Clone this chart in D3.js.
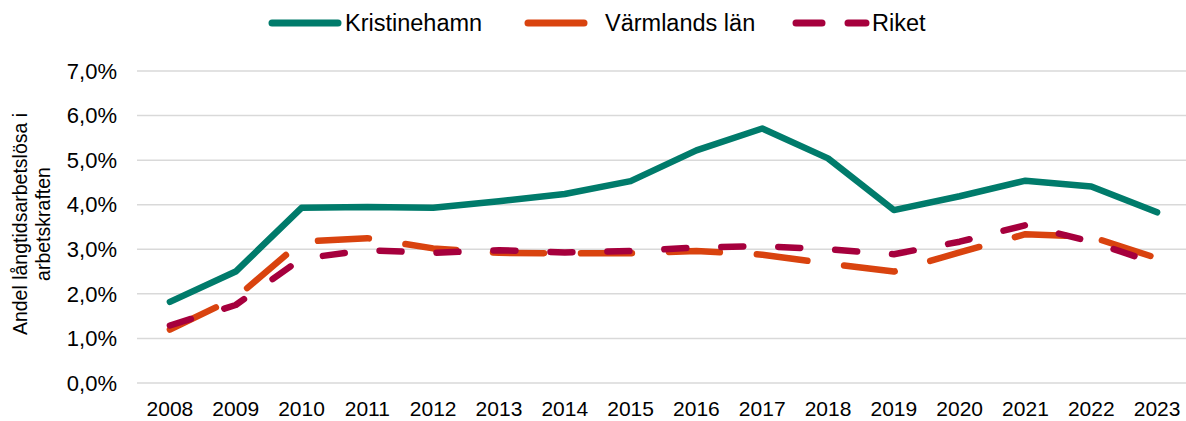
<!DOCTYPE html>
<html>
<head>
<meta charset="utf-8">
<script src="https://cdn.jsdelivr.net/npm/d3@7"></script>
<style>
  body { margin: 0; background: #fff; }
  text { font-family: "Liberation Sans", Arial, sans-serif; fill: #000; }
</style>
</head>
<body>
<svg id="chart" width="1186" height="421"></svg>
<script>
// data
var years = ["2008","2009","2010","2011","2012","2013","2014","2015","2016","2017","2018","2019","2020","2021","2022","2023"];
var kristinehamn = [1.82, 2.50, 3.93, 3.95, 3.93, 4.08, 4.24, 4.53, 5.22, 5.71, 5.04, 3.88, 4.19, 4.54, 4.41, 3.83];
var varmland     = [1.20, 1.91, 3.17, 3.25, 3.02, 2.92, 2.91, 2.91, 2.96, 2.88, 2.68, 2.50, 2.93, 3.34, 3.28, 2.80];
var riket        = [1.29, 1.75, 2.79, 2.98, 2.92, 2.98, 2.93, 2.96, 3.04, 3.07, 3.00, 2.89, 3.17, 3.54, 3.17, 2.68];
var yTicks = [0, 1, 2, 3, 4, 5, 6, 7];

var series = [
  {name: "Kristinehamn", values: kristinehamn, color: "#007B6B", dash: null},
  {name: "Värmlands län", values: varmland, color: "#D9430F", dash: "51,37"},
  {name: "Riket", values: riket, color: "#A6003D", dash: "22,35"}
];

var svg = d3.select("#chart");

var x = d3.scaleBand()
  .domain(years)
  .range([137, 1190]);

var y = d3.scaleLinear()
  .domain([0, 7])
  .range([383, 71]);

// gridlines
svg.append("g")
  .selectAll("line")
  .data(yTicks)
  .enter().append("line")
  .attr("x1", 137)
  .attr("x2", 1186)
  .attr("y1", function(d){ return y(d); })
  .attr("y2", function(d){ return y(d); })
  .attr("stroke", "#d9d9d9")
  .attr("stroke-width", 1.5);

// y labels
svg.append("g")
  .selectAll("text")
  .data(yTicks)
  .enter().append("text")
  .attr("x", 117)
  .attr("y", function(d){ return y(d); })
  .attr("dy", "0.35em")
  .attr("text-anchor", "end")
  .style("font-size", "22px")
  .text(function(d){ return d.toFixed(1).replace(".", ",") + "%"; });

// x labels
svg.append("g")
  .selectAll("text")
  .data(years)
  .enter().append("text")
  .attr("x", function(d){ return x(d) + x.bandwidth() / 2; })
  .attr("y", 416)
  .attr("text-anchor", "middle")
  .style("font-size", "21px")
  .text(function(d){ return d; });

// axis title
var title = svg.append("text")
  .attr("transform", "translate(27,224) rotate(-90)")
  .attr("text-anchor", "middle")
  .style("font-size", "19.5px");
title.append("tspan").attr("x", 0).attr("dy", 0).text("Andel långtidsarbetslösa i");
title.append("tspan").attr("x", 0).attr("dy", "1.2em").text("arbetskraften");

var line = d3.line()
  .x(function(d, i){ return x(years[i]) + x.bandwidth() / 2; })
  .y(function(d){ return y(d); });

series.forEach(function(s){
  svg.append("path")
    .datum(s.values)
    .attr("d", line)
    .attr("fill", "none")
    .attr("stroke", s.color)
    .attr("stroke-width", 6.5)
    .attr("stroke-linecap", "round")
    .attr("stroke-linejoin", "round")
    .attr("stroke-dasharray", s.dash);
});

// legend
var legendPos = [
  {x1: 272, x2: 338, tx: 345},
  {x1: 528, x2: 584, tx: 605},
  {x1: 796, x2: 866, tx: 872}
];
series.forEach(function(s, i){
  var p = legendPos[i];
  svg.append("line")
    .attr("x1", p.x1).attr("x2", p.x2)
    .attr("y1", 23).attr("y2", 23)
    .attr("stroke", s.color)
    .attr("stroke-width", 7)
    .attr("stroke-linecap", "round")
    .attr("stroke-dasharray", i == 2 ? "26,26" : null);
  svg.append("text")
    .attr("x", p.tx)
    .attr("y", 23)
    .attr("dy", "0.35em")
    .style("font-size", "23.5px")
    .text(s.name);
});
</script>
</body>
</html>
